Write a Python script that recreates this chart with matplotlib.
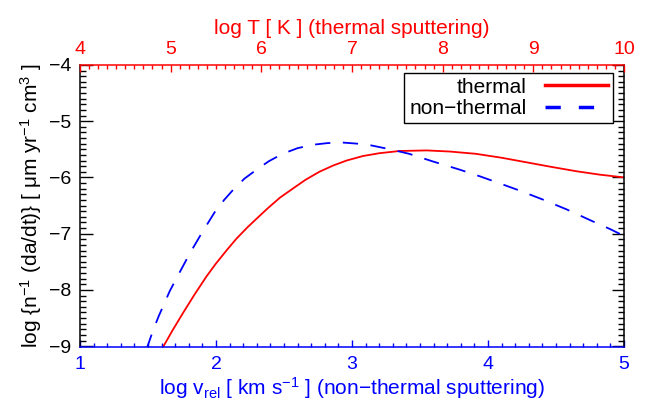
import matplotlib
matplotlib.use("Agg")
import matplotlib.pyplot as plt
from matplotlib.lines import Line2D
from matplotlib.ticker import MultipleLocator

plt.rcParams['font.family'] = ['Liberation Sans', 'DejaVu Sans']
plt.rcParams['mathtext.fontset'] = 'custom'
plt.rcParams['mathtext.rm'] = 'Liberation Sans'
plt.rcParams['mathtext.it'] = 'Liberation Sans'
plt.rcParams['mathtext.default'] = 'regular'
plt.rcParams['lines.scale_dashes'] = False

# sputtering rates, log scale
thermal_v = [1.60, 1.68, 1.76, 1.84, 1.93, 2.00, 2.08, 2.15, 2.23, 2.30,
             2.38, 2.47, 2.57, 2.66, 2.76, 2.86, 2.96, 3.08, 3.20, 3.35,
             3.55, 3.72, 3.91, 4.10, 4.28, 4.46, 4.65, 4.82, 5.00]
thermal_y = [-9.06, -8.72, -8.40, -8.09, -7.76, -7.53, -7.29, -7.09, -6.89, -6.73,
             -6.55, -6.36, -6.19, -6.04, -5.90, -5.79, -5.70, -5.62, -5.57, -5.53,
             -5.52, -5.54, -5.58, -5.65, -5.73, -5.81, -5.89, -5.95, -6.00]

nonthermal_v = [1.49, 1.54, 1.58, 1.62, 1.66, 1.73, 1.81, 1.90, 1.99, 2.06,
                2.13, 2.21, 2.30, 2.39, 2.49, 2.60, 2.71, 2.82, 2.93, 3.04,
                3.14, 3.28, 3.42, 3.60, 3.79, 3.94, 4.08, 4.24, 4.40, 4.58,
                4.77, 4.90, 5.00]
nonthermal_y = [-9.05, -8.70, -8.46, -8.24, -8.02, -7.70, -7.34, -6.97, -6.62, -6.40,
                -6.21, -6.02, -5.86, -5.71, -5.58, -5.48, -5.42, -5.39, -5.38, -5.40,
                -5.43, -5.50, -5.58, -5.72, -5.86, -5.98, -6.10, -6.24, -6.39, -6.57,
                -6.78, -6.92, -7.04]

v_range = (1, 5)
logT_range = (4, 10)
y_range = (-9.02, -4)

fig = plt.figure(figsize=(6.5, 4.03), dpi=100)
ax = fig.add_axes([0.123, 0.138, 0.837, 0.701])

ax.plot(thermal_v, thermal_y, color='red', lw=1.3)
ax.plot(nonthermal_v, nonthermal_y, color='blue', lw=1.3, dashes=(11, 9))
ax.set_xlim(*v_range)
ax.set_ylim(*y_range)

ax.xaxis.set_major_locator(MultipleLocator(1))
ax.xaxis.set_minor_locator(MultipleLocator(0.1))
ax.yaxis.set_major_locator(MultipleLocator(1))
ax.yaxis.set_minor_locator(MultipleLocator(0.1))
ax.tick_params(axis='x', which='both', direction='in', top=False, colors='blue',
               labelsize=14, pad=6.5)
ax.tick_params(axis='x', which='major', length=5, width=1)
ax.tick_params(axis='x', which='minor', length=3, width=1)
ax.tick_params(axis='y', which='both', direction='in', right=True, colors='black',
               labelsize=14, pad=6)
ax.tick_params(axis='y', which='major', length=9, width=1)
ax.tick_params(axis='y', which='minor', length=4.5, width=1)

for s in ['left', 'right']:
    ax.spines[s].set_color('black')
    ax.spines[s].set_linewidth(1.1)
ax.spines['bottom'].set_color('blue')
ax.spines['bottom'].set_linewidth(1.1)
ax.spines['top'].set_visible(False)

ax.set_xlabel('log v$_{rel}$ [ km s$^{-1}$ ] (non\u2212thermal sputtering)',
              color='blue', fontsize=15, labelpad=1)
ax.set_ylabel('log {n$^{-1}$ (da/dt)} [ \u03bcm yr$^{-1}$ cm$^{3}$ ]',
              fontsize=15, labelpad=4)

# temperature scale along the top
top = ax.twiny()
top.set_xlim(*logT_range)
top.xaxis.set_major_locator(MultipleLocator(1))
top.xaxis.set_minor_locator(MultipleLocator(0.1))
top.tick_params(axis='x', which='both', direction='in', colors='red',
                labelsize=14, pad=5)
top.tick_params(axis='x', which='major', length=5, width=1)
top.tick_params(axis='x', which='minor', length=3, width=1)
for s in ['left', 'right', 'bottom']:
    top.spines[s].set_visible(False)
top.spines['top'].set_color('red')
top.spines['top'].set_linewidth(1.1)
top.set_xlabel('log T [ K ] (thermal sputtering)', color='red', fontsize=15,
               labelpad=5)

handles = [Line2D([], [], color='red', lw=2.5),
           Line2D([], [], color='blue', lw=2.5, dashes=(11, 13))]
leg = ax.legend(handles, ['thermal', 'non\u2212thermal'], loc='upper right',
                bbox_to_anchor=(0.98, 0.973), markerfirst=False, fontsize=15,
                frameon=True, fancybox=False, framealpha=1, borderpad=0.25,
                labelspacing=0.1, handlelength=3.0, handletextpad=0.9,
                borderaxespad=0)
leg.get_frame().set_edgecolor('black')
leg.get_frame().set_linewidth(1)
for t in leg.get_texts():
    t.set_ha('right')

fig.savefig('out.png', dpi=100)
